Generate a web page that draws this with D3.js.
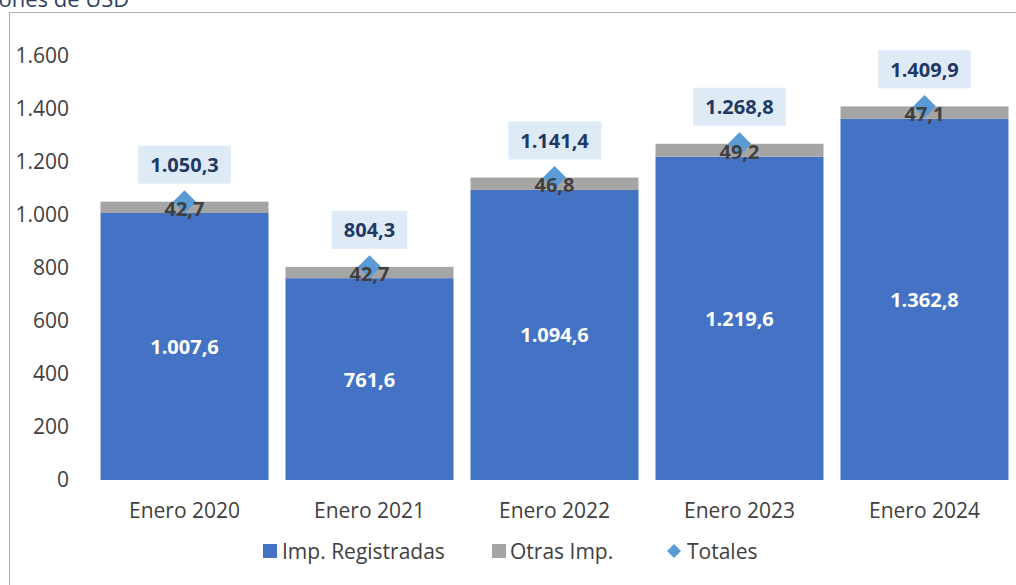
<!DOCTYPE html>
<html>
<head>
<meta charset="utf-8">
<script src="https://cdn.jsdelivr.net/npm/d3@7"></script>
<style>
  html, body { margin: 0; padding: 0; background: #fff; }
  svg { display: block; }
  text { font-family: "Open Sans", "Noto Sans", sans-serif; }
</style>
</head>
<body>
<svg id="chart" width="1016" height="585"></svg>
<script>
const categories = ["Enero 2020", "Enero 2021", "Enero 2022", "Enero 2023", "Enero 2024"];
const registradas = [1007.6, 761.6, 1094.6, 1219.6, 1362.8];
const otras = [42.7, 42.7, 46.8, 49.2, 47.1];
const totales = [1050.3, 804.3, 1141.4, 1268.8, 1409.9];
const yTicks = [0, 200, 400, 600, 800, 1000, 1200, 1400, 1600];
const seriesNames = ["Imp. Registradas", "Otras Imp.", "Totales"];
const title = "Millones de USD";

const colors = { reg: "#4472C4", otras: "#A5A5A5", tot: "#5B9BD5", totBox: "#DEEBF7", totText: "#1F3864", axis: "#404040" };

const fmt = v => {
  const s = v.toFixed(1).split(".");
  const intPart = s[0].replace(/\B(?=(\d{3})+(?!\d))/g, ".");
  return intPart + "," + s[1];
};

const svg = d3.select("#chart");

// title (partially cut at top, as in the reference)
svg.append("text").attr("x", -38).attr("y", 7)
  .attr("font-size", 22).attr("fill", "#2E3F63").text(title);

// frame
svg.append("rect").attr("x", 9.5).attr("y", 12.5).attr("width", 1020).attr("height", 600)
  .attr("fill", "none").attr("stroke", "#ADADAD").attr("stroke-width", 1);

const x = d3.scaleBand().domain(categories).range([92, 1017]).paddingInner(0.0919).paddingOuter(0.046);
const y = d3.scaleLinear().domain([0, 1600]).range([480, 56]);

// y axis
const yAxis = d3.axisLeft(y).tickValues(yTicks).tickSize(0).tickPadding(0)
  .tickFormat(d => d3.format(",")(d).replace(/,/g, "."));
const gy = svg.append("g").attr("transform", "translate(69,0)").call(yAxis);
gy.select(".domain").remove();
gy.selectAll("text").attr("font-size", 21).attr("fill", colors.axis)
  .attr("font-family", "'Open Sans', sans-serif");

// x axis
const xAxis = d3.axisBottom(x).tickSize(0).tickPadding(0);
const gx = svg.append("g").attr("transform", "translate(0,503)").call(xAxis);
gx.select(".domain").remove();
gx.selectAll("text").attr("font-size", 21).attr("fill", colors.axis)
  .attr("font-family", "'Open Sans', sans-serif");

const data = categories.map((c, i) => ({ c, reg: registradas[i], otr: otras[i], tot: totales[i] }));

// bars
svg.append("g").selectAll("rect").data(data).join("rect")
  .attr("x", d => x(d.c)).attr("width", x.bandwidth())
  .attr("y", d => y(d.reg)).attr("height", d => y(0) - y(d.reg))
  .attr("fill", colors.reg);
svg.append("g").selectAll("rect").data(data).join("rect")
  .attr("x", d => x(d.c)).attr("width", x.bandwidth())
  .attr("y", d => y(d.reg + d.otr)).attr("height", d => y(d.reg) - y(d.reg + d.otr))
  .attr("fill", colors.otras);

// registradas labels
svg.append("g").selectAll("text").data(data).join("text")
  .attr("x", d => x(d.c) + x.bandwidth() / 2)
  .attr("y", d => (y(d.reg) + y(0)) / 2)
  .attr("text-anchor", "middle").attr("dominant-baseline", "central")
  .attr("font-size", 20).attr("font-weight", "bold").attr("fill", "#fff")
  .text(d => fmt(d.reg));

// diamonds
const ds = 11.5;
svg.append("g").selectAll("path").data(data).join("path")
  .attr("d", d => {
    const cx = x(d.c) + x.bandwidth() / 2, cy = y(d.tot);
    return `M${cx},${cy - ds}L${cx + ds},${cy}L${cx},${cy + ds}L${cx - ds},${cy}Z`;
  })
  .attr("fill", colors.tot);

// otras labels
svg.append("g").selectAll("text").data(data).join("text")
  .attr("x", d => x(d.c) + x.bandwidth() / 2)
  .attr("y", d => (y(d.reg) + y(d.reg + d.otr)) / 2 + 1)
  .attr("text-anchor", "middle").attr("dominant-baseline", "central")
  .attr("font-size", 20).attr("font-weight", "bold").attr("fill", "#404040")
  .text(d => fmt(d.otr));

// totals labels
const tg = svg.append("g").selectAll("g").data(data).join("g")
  .attr("transform", d => `translate(${x(d.c) + x.bandwidth() / 2},${y(d.tot) - 37})`);
tg.append("text")
  .attr("text-anchor", "middle").attr("dominant-baseline", "central")
  .attr("font-size", 20).attr("font-weight", "bold").attr("fill", colors.totText)
  .text(d => fmt(d.tot))
  .each(function() {
    const bb = this.getBBox();
    d3.select(this.parentNode).insert("rect", "text")
      .attr("x", bb.x - 12).attr("y", -19).attr("width", bb.width + 24).attr("height", 38)
      .attr("fill", colors.totBox);
  });

// legend
const lg = svg.append("g");
const ly = 551;
lg.append("rect").attr("x", 263).attr("y", ly - 7).attr("width", 14).attr("height", 14).attr("fill", colors.reg);
lg.append("text").attr("x", 282).attr("y", ly).attr("dominant-baseline", "central")
  .attr("font-size", 21).attr("fill", colors.axis).text(seriesNames[0]);
lg.append("rect").attr("x", 492).attr("y", ly - 7).attr("width", 14).attr("height", 14).attr("fill", colors.otras);
lg.append("text").attr("x", 510).attr("y", ly).attr("dominant-baseline", "central")
  .attr("font-size", 21).attr("fill", colors.axis).text(seriesNames[1]);
lg.append("path").attr("d", `M674,${ly - 7}L681,${ly}L674,${ly + 7}L667,${ly}Z`).attr("fill", colors.tot);
lg.append("text").attr("x", 687).attr("y", ly).attr("dominant-baseline", "central")
  .attr("font-size", 21).attr("fill", colors.axis).text(seriesNames[2]);
</script>
</body>
</html>
